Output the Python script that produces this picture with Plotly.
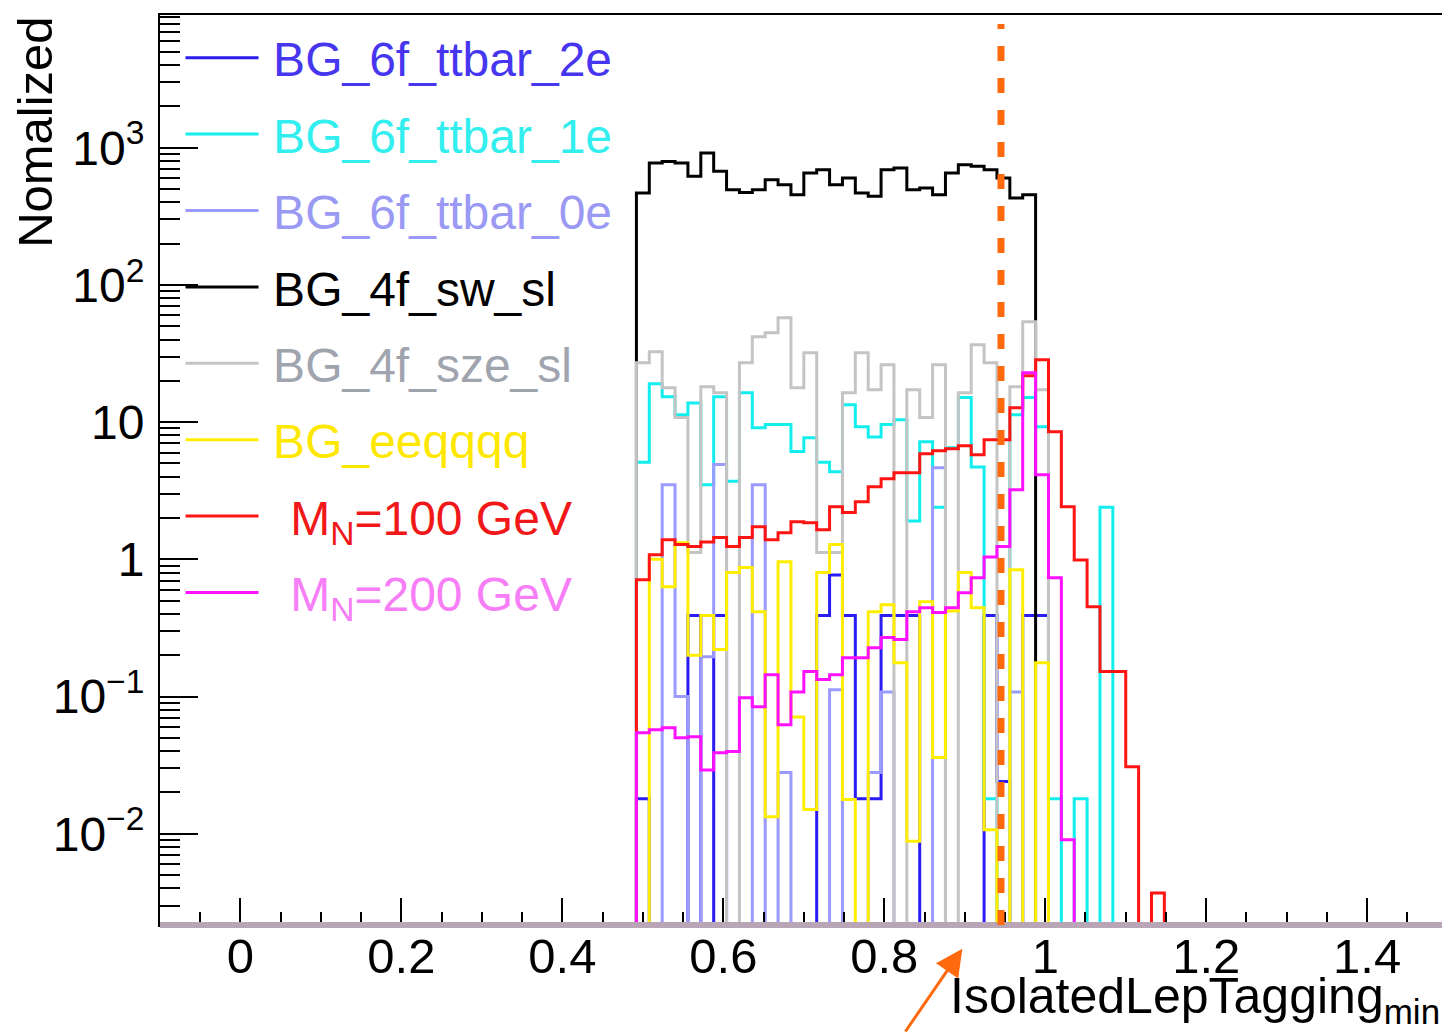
import numpy as np
import plotly.graph_objects as go

# ---- histogram binning (ROOT style TH1: 100 bins over [-0.1, 1.5]) ----
hist_xmin, hist_xmax, n_bins = -0.1, 1.5, 100
first_bin = 37          # index of first listed (non-empty region) bin, x = 0.492

# ---- series (bin contents starting at first_bin, 0 = empty bin) ----
ttbar_2e = [0.018, 0, 0, 0, 0.39, 0, 0.39, 0, 0, 0, 0, 0, 0, 0, 0.39, 0.77,
            0.39, 0.018, 0.018, 0.39, 0.39, 0.39, 0, 0, 0, 0, 0, 0.39, 0.024, 0, 0.39, 0.39]
ttbar_1e = [5.1, 19.0, 15.3, 11.3, 13.8, 3.5, 15.3, 3.7, 16.4, 9.1, 9.6, 9.6, 6.1, 7.7, 5.1, 4.35,
            13.4, 9.25, 7.8, 9.6, 10.4, 1.9, 7.2, 2.4, 6.5, 15.1, 4.7, 0.018, 0, 11.3, 15.1, 9.25,
            0.018, 0, 0.018, 0, 2.4]
ttbar_0e = [0, 0, 3.5, 0.10, 0, 0.195, 4.9, 0, 0, 3.5, 0, 0.028, 0, 0, 0, 0.112,
            0, 0, 0.028, 0.108, 0, 0, 0, 4.65, 0, 0, 0, 0, 0, 0.108, 0, 0]
sw_sl = [468, 774, 794, 774, 618, 915, 672, 494, 472, 494, 585, 537, 454, 655, 692, 537,
         601, 468, 442, 692, 711, 494, 508, 454, 655, 752, 731, 692, 601, 430, 454]
sze_sl = [27.1, 32.6, 17.8, 10.8, 1.12, 18.1, 16.4, 0, 27.1, 41.9, 44.8, 57.7, 17.8, 32.0, 1.12, 1.12,
          16.4, 32.0, 17.2, 26.2, 0, 17.2, 10.8, 26.2, 0, 16.4, 36.6, 27.1, 0, 18.1, 53.9, 17.2]
eeqqqq = [0, 1.0, 0.63, 1.32, 0.20, 0.39, 0.22, 0.80, 0.87, 0.415, 0.0133, 0.96, 0.071, 0.015, 0.80, 1.28,
          0.0178, 0, 0.415, 0.466, 0.176, 0.0088, 0.49, 0.036, 0.42, 0.80, 0.444, 0.0107, 0, 0.84, 0, 0.176]
mn100 = [0.71, 1.08, 1.39, 1.28, 1.24, 1.34, 1.44, 1.24, 1.44, 1.73, 1.39, 1.56, 1.88, 1.85, 1.64, 2.42,
         2.19, 2.63, 3.38, 3.87, 4.27, 4.27, 5.89, 6.19, 6.40, 6.73, 5.78, 7.45, 7.45, 12.7, 21.8, 28.5,
         8.51, 2.42, 0.99, 0.452, 0.152, 0.152, 0.0308, 0, 0.0037]
mn200 = [0.0545, 0.0573, 0.0593, 0.0501, 0.0509, 0.0292, 0.0389, 0.0398, 0.098, 0.0843, 0.144, 0.0623,
         0.108, 0.152, 0.133, 0.144, 0.192, 0.192, 0.227, 0.269, 0.26, 0.415, 0.444, 0.41, 0.444, 0.571,
         0.735, 1.04, 1.24, 3.21, 22.9, 4.14, 0.735, 0.00904]

series_names = ["BG_6f_ttbar_2e", "BG_6f_ttbar_1e", "BG_6f_ttbar_0e", "BG_4f_sw_sl",
                "BG_4f_sze_sl", "BG_eeqqqq", "M<sub>N</sub>=100 GeV", "M<sub>N</sub>=200 GeV"]
series_values = [ttbar_2e, ttbar_1e, ttbar_0e, sw_sl, sze_sl, eeqqqq, mn100, mn200]
line_colors = ["#2a1cf2", "#12eeee", "#9a9aff", "#000000", "#c4c4c4", "#ffee00", "#ff1414", "#ff10ff"]
text_colors = ["#4636f0", "#33eeee", "#9a9af5", "#000000", "#a0a4ae", "#ffe800", "#f01818", "#f77ef7"]
name_prefix = ["\u2009", "\u2009", "\u2009", "\u2009", "\u2009", "\u2009", "\u00a0\u00a0", "\u00a0\u00a0"]

cut_value = 0.945          # selection cut marked by the orange dashed line
x_ticks = [0, 0.2, 0.4, 0.6, 0.8, 1.0, 1.2, 1.4]
x_ticktext = ["0", "0.2", "0.4", "0.6", "0.8", "1", "1.2", "1.4"]
y_ticks = [0.01, 0.1, 1, 10, 100, 1000]
y_ticktext = ["10<sup>\u22122</sup>", "10<sup>\u22121</sup>", "1", "10", "10<sup>2</sup>", "10<sup>3</sup>"]

x_view = [-0.1, 1.493]
y_view_log = [-2.665, 3.967]
hidden_floor = 10 ** (y_view_log[0] - 0.3)   # empty bins drawn just below the frame

edges = np.linspace(hist_xmin, hist_xmax, n_bins + 1)

FONT = "Liberation Sans, Arial, Helvetica, sans-serif"
fig = go.Figure()
for name, vals, lc, tc, pre in zip(series_names, series_values, line_colors, text_colors, name_prefix):
    full = np.zeros(n_bins)
    full[first_bin:first_bin + len(vals)] = vals
    plot_vals = np.where(full > 0, full, hidden_floor)
    ys = np.append(plot_vals, plot_vals[-1])
    fig.add_trace(go.Scatter(
        x=edges, y=ys, mode="lines", line=dict(color=lc, width=3, shape="hv"),
        name=f"<span style='color:{tc}'>{pre}{name}</span>", legendgroup=name,
        hoverinfo="skip"))

minor_y = [m * 10.0 ** e for e in range(-3, 4) for m in range(2, 10)]

fig.update_layout(
    width=1442, height=1033,
    margin=dict(l=160, r=0, t=15, b=108),
    paper_bgcolor="white", plot_bgcolor="white",
    font=dict(family=FONT, size=46, color="black"),
    showlegend=True,
    legend=dict(x=0.016, y=0.9945, xanchor="left", yanchor="top",
                bgcolor="rgba(0,0,0,0)", borderwidth=0,
                font=dict(family=FONT, size=48),
                itemwidth=73, tracegroupgap=11, traceorder="grouped",
                itemclick=False),
    xaxis=dict(range=x_view, showline=True, linecolor="black", linewidth=2, mirror=True,
               ticks="inside", ticklen=27, tickwidth=2, tickcolor="black",
               tickvals=x_ticks, ticktext=x_ticktext, ticklabelstandoff=-13,
               tickfont=dict(family=FONT, size=49, color="black"),
               minor=dict(ticks="inside", ticklen=13, tickwidth=2, tickcolor="black",
                          dtick=0.05, tick0=0, showgrid=False),
               showgrid=False, zeroline=False),
    yaxis=dict(type="log", range=y_view_log, showline=True, linecolor="black", linewidth=2,
               ticks="inside", ticklen=38, tickwidth=2, tickcolor="black",
               tickvals=y_ticks, ticktext=y_ticktext, ticklabelstandoff=4,
               tickfont=dict(family=FONT, size=48, color="black"),
               minor=dict(ticks="inside", ticklen=20, tickwidth=1.5, tickcolor="black",
                          tickmode="array", tickvals=minor_y, showgrid=False),
               showgrid=False, zeroline=False),
)

# grey/pink band along the bottom of the frame (empty-bin outlines in the original)
fig.add_shape(type="line", xref="paper", yref="paper", x0=0, x1=1, y0=0, y1=0,
              line=dict(color="#b8a6b6", width=6), layer="above")

# orange dashed cut line
fig.add_shape(type="line", xref="x", yref="paper", x0=cut_value, x1=cut_value, y0=0, y1=0.99,
              line=dict(color="#ff6a0e", width=7, dash="15px,17px"), layer="above")

# orange arrow pointing at the cut
fig.add_annotation(xref="x", yref="paper", x=0.897, y=-0.026, ax=-58, ay=95,
                   text="", showarrow=True, arrowhead=2, arrowsize=1.8, arrowwidth=3,
                   arrowcolor="#ff6a0e")

# axis titles (ROOT style placement)
fig.add_annotation(xref="paper", yref="paper", x=1.0, y=-0.082, xanchor="right", yanchor="middle",
                   text="IsolatedLepTagging<sub>min</sub>", showarrow=False,
                   font=dict(family=FONT, size=50, color="black"))
fig.add_annotation(xref="paper", yref="paper", x=-0.098, y=1.0, xanchor="center", yanchor="top",
                   text="Nomalized", textangle=-90, showarrow=False,
                   font=dict(family=FONT, size=49, color="black"))

fig.write_html("out.html", config={"displayModeBar": False})
